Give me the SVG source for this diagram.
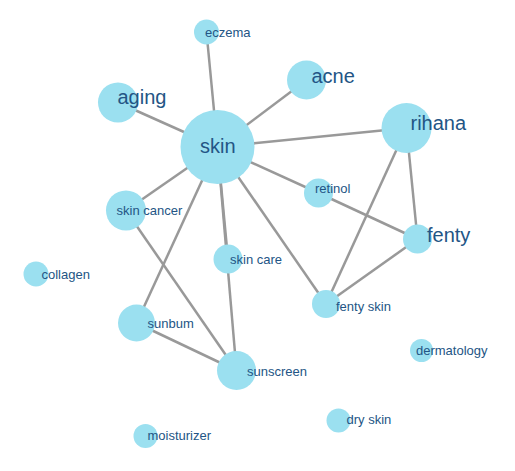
<svg xmlns="http://www.w3.org/2000/svg" width="515" height="471" viewBox="0 0 515 471">
<style>
.n circle{fill:#9be0f0}
.n text{font-family:"Liberation Sans",Arial,sans-serif;fill:#235585}
.s{font-size:13px}
.b{font-size:20px}
#links line{stroke:#999;stroke-width:2.5}
</style>
<rect width="515" height="471" fill="#fff"/>
<g id="links">
<line x1="217.5" y1="147" x2="206.5" y2="32"/>
<line x1="217.5" y1="147" x2="118" y2="102.5"/>
<line x1="217.5" y1="147" x2="306.5" y2="80"/>
<line x1="217.5" y1="147" x2="406.5" y2="128"/>
<line x1="217.5" y1="147" x2="318.5" y2="193"/>
<line x1="217.5" y1="147" x2="126" y2="210.5"/>
<line x1="217.5" y1="147" x2="136.5" y2="323"/>
<line x1="217.5" y1="147" x2="228" y2="259"/>
<line x1="217.5" y1="147" x2="236.5" y2="370.5"/>
<line x1="217.5" y1="147" x2="326" y2="304"/>
<line x1="126" y1="210.5" x2="236.5" y2="370.5"/>
<line x1="136.5" y1="323" x2="236.5" y2="370.5"/>
<line x1="406.5" y1="128" x2="417.5" y2="239"/>
<line x1="406.5" y1="128" x2="326" y2="304"/>
<line x1="318.5" y1="193" x2="417.5" y2="239"/>
<line x1="417.5" y1="239" x2="326" y2="304"/>
</g>
<g id="skin" class="n"><circle cx="217.5" cy="147" r="37"/><text class="b" x="200" y="153">skin</text></g>
<g id="eczema" class="n"><circle cx="206.5" cy="32" r="12.5"/><text class="s" x="205" y="37">eczema</text></g>
<g id="aging" class="n"><circle cx="118" cy="102.5" r="20"/><text class="b" x="117.5" y="103.5">aging</text></g>
<g id="acne" class="n"><circle cx="306.5" cy="80" r="19.5"/><text class="b" x="311.5" y="83.3">acne</text></g>
<g id="rihana" class="n"><circle cx="406.5" cy="128" r="25"/><text class="b" x="410.5" y="129.5">rihana</text></g>
<g id="retinol" class="n"><circle cx="318.5" cy="193" r="14.5"/><text class="s" x="315" y="192.7">retinol</text></g>
<g id="fenty" class="n"><circle cx="417.5" cy="239" r="14.5"/><text class="b" x="427" y="241.7">fenty</text></g>
<g id="fenty-skin" class="n"><circle cx="326" cy="304" r="14"/><text class="s" x="336" y="310.7">fenty skin</text></g>
<g id="skin-cancer" class="n"><circle cx="126" cy="210.5" r="20"/><text class="s" x="116.5" y="215">skin cancer</text></g>
<g id="collagen" class="n"><circle cx="36" cy="274" r="12.5"/><text class="s" x="41.5" y="279">collagen</text></g>
<g id="skin-care" class="n"><circle cx="228" cy="259" r="14.5"/><text class="s" x="230" y="264.3">skin care</text></g>
<g id="sunbum" class="n"><circle cx="136.5" cy="323" r="18.5"/><text class="s" x="147.5" y="328">sunbum</text></g>
<g id="sunscreen" class="n"><circle cx="236.5" cy="370.5" r="19.5"/><text class="s" x="247" y="376">sunscreen</text></g>
<g id="moisturizer" class="n"><circle cx="145.5" cy="436" r="12"/><text class="s" x="147.5" y="440">moisturizer</text></g>
<g id="dermatology" class="n"><circle cx="421.5" cy="350.5" r="11.5"/><text class="s" x="416" y="355">dermatology</text></g>
<g id="dry-skin" class="n"><circle cx="338.5" cy="420.5" r="12"/><text class="s" x="346.5" y="424">dry skin</text></g>
</svg>
